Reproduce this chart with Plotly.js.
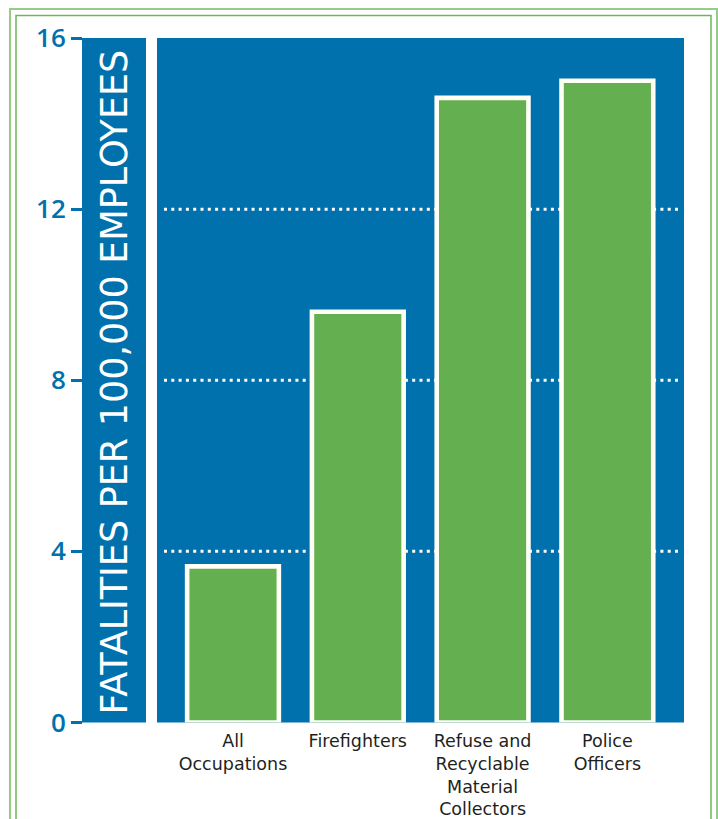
<!DOCTYPE html>
<html>
<head>
<meta charset="utf-8">
<script src="https://cdn.plot.ly/plotly-3.0.1.min.js"></script>
<style>html,body{margin:0;padding:0;background:#fff;}#chart{width:718px;height:819px;}</style>
</head>
<body>
<div id="chart"></div>
<script>
// ---- data ----
var categories = ["All<br>Occupations", "Firefighters", "Refuse and<br>Recyclable<br>Material<br>Collectors", "Police<br>Officers"];
var fatalityRates = [3.65, 9.6, 14.6, 15.0];
var yTickValues = [0, 4, 8, 12, 16];
var yTickLabels = ["0", "4", "8", "12", "16"];
var gridValues = [4, 8, 12];
var yAxisTitle = "FATALITIES PER 100,000 EMPLOYEES";

// ---- styling / layout helpers ----
var W = 718, H = 819;
function px(x) { return x / W; }
function py(y) { return 1 - y / H; }
var BLUE = "#0071AD", GREEN = "#64AF4F";

var trace = {
  type: "bar",
  x: categories,
  y: fatalityRates,
  width: 0.735,
  marker: { color: GREEN, line: { color: "#FFFFF6", width: 4.6 } },
  hoverinfo: "skip"
};

var shapes = [];
// outer double frame
shapes.push({type: "rect", xref: "paper", yref: "paper", x0: px(10), x1: px(717), y0: py(9), y1: -0.05,
  line: {color: "#97CC86", width: 2}, layer: "below"});
shapes.push({type: "rect", xref: "paper", yref: "paper", x0: px(16), x1: px(711), y0: py(15.5), y1: -0.05,
  line: {color: "#6DB75A", width: 1.5}, layer: "below"});
// y title strip
shapes.push({type: "rect", xref: "paper", yref: "paper", x0: px(82), x1: px(146), y0: py(722.5), y1: py(38),
  fillcolor: BLUE, line: {width: 0}, layer: "below"});
// dotted gridlines
gridValues.forEach(function (v) {
  shapes.push({type: "line", xref: "paper", yref: "y", x0: px(164), x1: px(681), y0: v, y1: v,
    line: {color: "#FFFFFF", width: 3, dash: "3px,4.3px"}, layer: "below"});
});

var layout = {
  width: W, height: H,
  margin: {l: 0, r: 0, t: 0, b: 0},
  paper_bgcolor: "#FFFFFF",
  plot_bgcolor: BLUE,
  showlegend: false,
  bargap: 0,
  xaxis: {
    type: "category",
    domain: [px(157), px(684)],
    range: [-0.609, 3.614],
    showgrid: false, zeroline: false, showline: false,
    ticks: "",
    tickfont: {family: "DejaVu Sans", size: 17.5, color: "#231F20"},
    ticklabelstandoff: 6,
    fixedrange: true
  },
  yaxis: {
    domain: [py(722.5), py(38)],
    range: [0, 16],
    anchor: "free",
    position: px(82),
    tickmode: "array",
    tickvals: yTickValues,
    ticktext: yTickLabels,
    ticks: "outside",
    ticklen: 11,
    tickwidth: 3,
    tickcolor: BLUE,
    showgrid: false, zeroline: false, showline: false,
    tickfont: {family: "Open Sans", size: 26, weight: 600, color: BLUE},
    fixedrange: true
  },
  shapes: shapes,
  annotations: [{
    xref: "paper", yref: "paper",
    x: px(114), y: py(382.5),
    xanchor: "center", yanchor: "middle",
    text: yAxisTitle,
    textangle: -90,
    showarrow: false,
    font: {family: "DejaVu Sans", size: 36.5, color: "#FFFFFF"}
  }]
};

Plotly.newPlot("chart", [trace], layout, {displayModeBar: false, staticPlot: true});
</script>
</body>
</html>
